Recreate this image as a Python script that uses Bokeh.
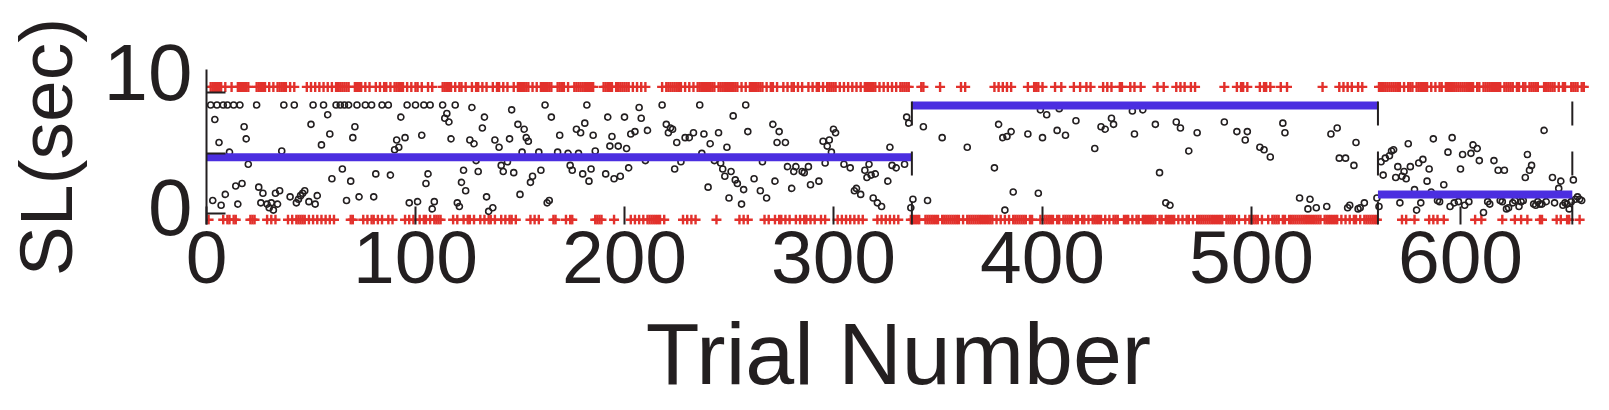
from bokeh.plotting import figure
from bokeh.models import Range1d, FixedTicker
from bokeh.embed import file_html
from bokeh.resources import INLINE

# ---------------- data ----------------
n_trials = 659

# outcome per trial 1..337 : T = red cross on top row, B = red cross on bottom row
early_outcomes = (
    "B" "TTTTTT" "BTBBTBB" "TTTTTT" "BBB" "TTTTT" "BTBTB" "TTTTT"
    "BTBTBBBBBTBTBTBTBTBTBTBT" "TTTTTT" "BB" "TTTT" "BTBTBBTBTBTTBTB" "TTTTT"
    "BTBTBTTBTBBTBT" "BBBB"
    "TTTTT" "BTBTTBTBBTBTTBTBTBBTBTTBTBTBBTBT" "TTTTT" "BTBTBT" "TTTTT" "BB"
    "TTTT" "BTBB" "TTTTTTTTTT" "BBBB" "TTTTT" "B" "TTTTTTT" "BTBTBTBT" "BBBBBBB" "T"
    "B" "TTTTTTTT" "BTBTBTB" "TTTTTTTTT" "B" "TTTTTTTTTT" "BTBTBT" "TTTTTT"
    "BTBTTBTBBTBTBTTBTBTBBTBTBTTBTB" "TTTTT" "BTBTBTBTBTBTB" "TTTTTT" "BTBTBTBT"
    "BTBTTTTT" "B"
)
# trials 338..558: bottom row except these top-row trials
mid_top_trials = [342, 343, 351, 361, 363, 377, 379, 381, 383, 385, 393, 396, 397,
                  398, 400, 406, 409, 415, 418, 421, 423, 429, 431, 433, 437, 438,
                  442, 444, 447, 455, 458, 464, 466, 468, 471, 473, 487, 493, 495,
                  496, 498, 504, 506, 507, 509, 514, 517, 534, 542, 544, 546, 548,
                  551, 553]
# trials 559..659: top row except these bottom-row trials
late_bottom_trials = [559, 560, 572, 574, 578, 585, 587, 589, 592, 607, 610, 620,
                      626, 629, 632, 638, 639, 646, 648, 651, 652, 657]
top_row_level = 10.5
bottom_row_level = -0.5

# SL (sec) per trial, black open circles
sl_trials = [
    2, 5, 8, 10, 13, 16, 24, 37, 42, 51, 56, 62, 64, 66, 68, 72, 76, 79, 84, 87, 96, 100, 104, 107,
    4, 6, 11, 18, 19, 20, 36, 50, 58, 59, 55, 70, 71, 90, 91, 92, 93, 95, 103,
    3, 7, 9, 14, 15, 17, 25, 26, 27, 29, 30, 31, 32, 33, 34, 35, 40, 43, 44, 45, 46, 47, 49, 52,
    53, 60, 65, 67, 69, 73, 80, 81, 88, 97, 101, 105, 106, 108, 109,
    113, 119, 162, 182, 218,
    114, 115, 116, 117, 127, 126, 128, 133, 132, 138, 140, 145, 146, 149, 152, 153, 154, 151,
    159, 165, 169, 168, 173, 177, 179, 181, 185, 178, 186, 192, 194, 193, 197, 200, 201, 203,
    205, 207, 208, 211, 210,
    123, 122, 124, 130, 129, 134, 141, 142, 144, 147, 150, 155, 156, 160, 163, 164, 174, 175,
    180, 183, 184, 191, 195, 198, 202, 120, 121, 135, 137,
    236, 258, 252, 220, 222, 223, 221, 225, 229, 231, 233, 238, 241, 245, 249, 259, 271, 274,
    273, 277, 295, 296, 297, 298, 299, 300, 301, 327, 237,
    227, 224, 243, 246, 247, 248, 251, 240, 253, 254, 257, 250, 256, 262, 265, 266, 268, 272,
    278, 280, 281, 282, 285, 286, 288, 289, 293,
    305, 308, 310, 311, 313, 315, 317, 316, 318, 320, 319, 321, 323, 326, 328,
    330, 334, 335, 336, 337, 338, 343, 345, 352, 364, 377, 379, 381, 383, 385, 382, 386, 393,
    398, 399, 402, 400, 407, 408, 411, 416, 425, 428, 430, 433, 434,
    443, 448, 444, 454, 464, 466, 474, 470, 456, 459, 461, 487, 493, 498, 497, 504, 506, 509,
    515, 516, 523, 527, 528, 531, 536, 538, 541, 542, 545, 549, 550, 546, 547,
    551, 552, 554, 560, 561, 562, 563, 564, 566, 567, 568, 569, 570, 571, 572, 573, 574, 575,
    576, 578, 579, 580, 581, 582, 584, 585, 586, 587, 589, 590, 592, 594, 595, 596, 597, 599,
    600, 601, 602, 604, 605, 606, 608, 609, 611, 613, 614, 616, 618, 619, 620, 621, 622, 623,
    625, 626, 628, 629, 630, 631, 632, 633, 634, 635, 636, 637, 638, 639, 640, 641, 644, 645,
    647, 648, 649, 650, 651, 652, 653, 654, 655, 656, 657, 658,
]
sl_values = [
    9.0, 9.0, 9.0, 9.0, 9.0, 9.0, 9.0, 9.0, 9.0, 9.0, 9.0, 9.0, 9.0, 9.0, 9.0, 9.0, 9.0, 9.0, 9.0, 9.0, 9.0, 9.0, 9.0, 9.0,
    7.8, 5.9, 5.1, 7.2, 6.2, 4.1, 5.2, 7.4, 8.2, 6.6, 5.7, 6.3, 7.2, 5.3, 6.1, 5.5, 8.0, 6.3, 6.5,
    1.1, 0.7, 1.6, 2.3, 0.8, 2.5, 2.2, 0.9, 1.7, 0.8, 0.5, 0.9, 0.3, 1.7, 0.8, 1.9, 1.4, 0.9, 1.2, 1.5, 1.7, 1.9, 1.0, 0.8,
    1.5, 2.9, 3.7, 1.1, 2.7, 1.4, 1.4, 3.3, 3.2, 0.9, 1.0, 2.5, 3.3, 0.4, 1.0,
    9.0, 9.0, 9.0, 9.0, 9.0,
    7.9, 8.3, 7.6, 6.2, 8.8, 6.1, 5.8, 8.0, 7.1, 6.1, 5.5, 6.2, 8.6, 7.4, 7.0, 6.3, 6.0, 5.1,
    5.1, 8.0, 6.5, 5.1, 5.0, 7.0, 6.7, 7.5, 6.5, 5.0, 5.2, 8.0, 6.4, 5.6, 5.6, 8.0, 5.4, 6.6,
    6.8, 8.8, 7.9, 6.9, 4.4,
    3.6, 2.6, 1.9, 3.5, 4.4, 1.4, 4.0, 3.5, 4.3, 3.4, 1.6, 2.6, 3.1, 3.6, 0.9, 1.1, 4.0, 3.6,
    3.3, 2.7, 3.7, 3.3, 2.9, 3.1, 3.8, 0.9, 0.6, 0.2, 0.5,
    9.0, 9.0, 8.1, 7.4, 7.1, 7.0, 6.7, 5.9, 6.3, 6.3, 6.7, 6.6, 5.8, 6.7, 5.5, 6.8, 7.4, 6.8,
    5.9, 5.9, 6.0, 4.2, 5.6, 6.1, 5.1, 7.0, 6.7, 5.5, 5.0,
    4.3, 3.7, 4.4, 4.2, 3.7, 3.1, 3.5, 2.2, 2.8, 2.5, 2.0, 1.3, 0.8, 2.9, 1.9, 4.3, 1.3, 2.7,
    3.9, 2.1, 3.5, 3.9, 3.5, 3.4, 3.9, 2.4, 2.7,
    4.1, 3.8, 1.9, 2.1, 1.6, 3.6, 4.1, 3.0, 3.2, 3.3, 1.3, 0.9, 0.6, 2.7, 4.0,
    3.8, 4.1, 8.0, 7.5, 0.5, 1.2, 7.2, 1.1, 6.3, 5.5, 3.8, 7.4, 6.3, 6.4, 6.8, 0.3, 1.8, 6.6,
    1.7, 8.6, 8.2, 6.3, 6.9, 8.7, 6.5, 7.7, 5.4, 7.2, 7.0, 7.9, 7.4,
    8.5, 8.6, 6.6, 7.4, 7.6, 7.1, 6.7, 5.2, 3.4, 0.9, 0.7, 7.6, 6.8, 6.8, 6.1, 5.5, 5.3, 4.7,
    7.5, 6.7, 1.3, 0.4, 1.2, 0.5, 0.6, 6.6, 7.1, 4.6, 4.6, 4.0, 5.9, 0.5, 0.7,
    0.4, 0.5, 0.9, 1.3, 0.6, 4.3, 3.2, 4.6, 4.8, 5.2, 5.3, 3.0, 3.9, 0.9, 3.1, 3.5, 2.9, 5.8,
    3.9, 2.0, 0.3, 4.2, 0.9, 4.5, 2.7, 3.7, 1.8, 6.2, 1.1, 1.0, 2.4, 5.1, 0.6, 6.3, 0.9, 1.0,
    3.7, 4.9, 0.7, 1.0, 5.0, 5.7, 5.4, 4.4, 0.1, 1.0, 0.8, 4.4, 3.6, 1.1, 1.0, 3.6, 0.4, 0.5,
    0.9, 1.1, 0.6, 1.0, 1.1, 3.0, 4.9, 3.6, 4.0, 0.8, 0.7, 1.0, 0.8, 0.8, 6.9, 1.0, 3.0, 0.9,
    2.1, 2.7, 0.7, 0.9, 0.8, 0.4, 1.0, 2.8, 1.2, 1.4, 1.2, 1.1,
]

# block means (blue) and block switch trials (dashed)
block_starts = [0, 337.5, 560.5]
block_ends = [337.5, 560.5, 653.5]
block_means = [4.67, 8.97, 1.6]
switch_trials = [337.5, 560.5, 653.5]
dash_from, dash_to = -0.97, 9.3

x_ticks = [0, 100, 200, 300, 400, 500, 600]
y_tick_marks = [0, 5, 10]
y_label_pos = {0.48: "0", 11.72: "10"}

# ---------------- derived ----------------
top_x, bottom_x = [], []
for t in range(1, n_trials + 1):
    if t <= len(early_outcomes):
        o = early_outcomes[t - 1]
    elif t <= 558:
        o = "T" if t in mid_top_trials else "B"
    else:
        o = "B" if t in late_bottom_trials else "T"
    (top_x if o == "T" else bottom_x).append(t)

INK = "#231f20"
RED = "#e2312c"
BLUE = "#4b2ee0"
FONT = "Liberation Sans"

p = figure(frame_width=1384, frame_height=155,
           x_range=Range1d(0, 662.2), y_range=Range1d(-0.89, 11.94),
           output_backend="svg", toolbar_location=None,
           min_border_left=206, min_border_right=5, min_border_top=69, min_border_bottom=0,
           outline_line_color=None, background_fill_color="white", border_fill_color="white")
p.grid.visible = False

p.scatter(top_x, [top_row_level] * len(top_x), marker="cross", size=10,
          line_color=RED, line_width=2.4)
p.scatter(bottom_x, [bottom_row_level] * len(bottom_x), marker="cross", size=10,
          line_color=RED, line_width=2.4)
p.scatter(sl_trials, sl_values, marker="circle", size=6, fill_color=None,
          line_color=INK, line_width=1.6)
p.segment(x0=block_starts, x1=block_ends, y0=block_means, y1=block_means,
          line_color=BLUE, line_width=8, line_cap="butt")
p.segment(x0=switch_trials, x1=switch_trials, y0=[dash_from] * 3, y1=[dash_to] * 3,
          line_color=INK, line_width=2, line_dash="24 26")

xa = p.xaxis[0]
xa.ticker = FixedTicker(ticks=x_ticks)
xa.axis_line_color = None
xa.major_tick_in = 18
xa.major_tick_out = 0
xa.major_tick_line_width = 2
xa.major_tick_line_color = INK
xa.minor_tick_line_color = None
xa.major_label_text_font = FONT
xa.major_label_text_font_size = "75px"
xa.major_label_text_color = INK
xa.major_label_standoff = 7
xa.axis_label = "Trial Number"
xa.axis_label_text_font = FONT
xa.axis_label_text_font_size = "88px"
xa.axis_label_text_font_style = "normal"
xa.axis_label_text_color = INK
xa.axis_label_standoff = 18

ya = p.yaxis[0]
ya.ticker = FixedTicker(ticks=list(y_label_pos.keys()), minor_ticks=y_tick_marks)
ya.major_label_overrides = y_label_pos
ya.axis_line_color = INK
ya.axis_line_width = 2
ya.major_tick_in = 0
ya.major_tick_out = 0
ya.major_tick_line_color = None
ya.minor_tick_in = 19
ya.minor_tick_out = 0
ya.minor_tick_line_width = 2
ya.minor_tick_line_color = INK
ya.major_label_text_font = FONT
ya.major_label_text_font_size = "80px"
ya.major_label_text_color = INK
ya.major_label_standoff = 14
ya.axis_label = "SL(sec)"
ya.axis_label_text_font = FONT
ya.axis_label_text_font_size = "75px"
ya.axis_label_text_font_style = "normal"
ya.axis_label_text_color = INK
ya.axis_label_standoff = 13

open("out.html", "w").write(file_html(p, INLINE))
